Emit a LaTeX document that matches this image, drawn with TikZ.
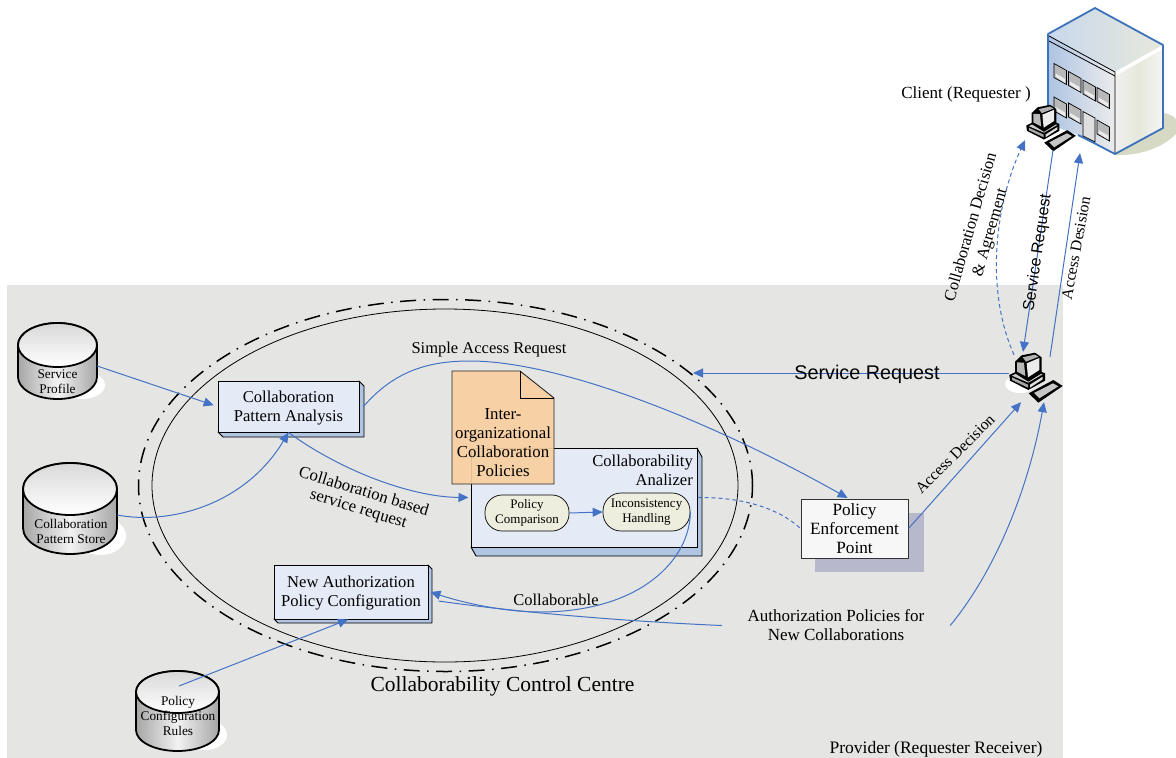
\documentclass[tikz,border=0pt]{standalone}
\usepackage{fontspec}
\setmainfont{Liberation Serif}
\newfontfamily\arialf{Liberation Sans}
\usetikzlibrary{arrows.meta}
\definecolor{bggray}{HTML}{E5E5E3}
\definecolor{linkblue}{HTML}{4472C4}
\definecolor{boxfill}{HTML}{E4EBF6}
\definecolor{boxside}{HTML}{AFC5E2}
\definecolor{notefill}{HTML}{F9CFA0}
\definecolor{pillfill}{HTML}{EEEEDF}
\definecolor{pepshadow}{HTML}{B8B8CC}
\definecolor{bldblue}{HTML}{3C72BC}
\definecolor{bldshadow}{HTML}{D6D9C4}
\tikzset{
  link/.style={draw=linkblue,line width=1pt},
  arrowed/.style={link,-{Triangle[length=10pt,width=9pt,fill=linkblue]}},
  dashlink/.style={link,dash pattern=on 4pt off 3pt},
  boxnode/.style={draw=black,line width=1pt,fill=boxfill,inner sep=0pt,align=center},
  pill/.style={draw=black,line width=0.7pt,fill=pillfill,rounded corners=17pt,inner sep=0pt,align=center,font=\fontsize{13}{15}\selectfont},
  port/.style={inner sep=0pt,draw=none,fill=none},
  label/.style={inner sep=0pt,align=center},
  t15/.style={font=\fontsize{16.6}{19}\selectfont},
  tcyl/.style={label,font=\fontsize{13.3}{15}\selectfont},
}
% cylinder: x1 x2 ytopcentre ybottomcentre ry
\newcommand\cyl[5]{%
  \pgfmathsetmacro\rrx{(#2-#1)/2}%
  \pgfmathsetmacro\ccx{(#1+#2)/2}%
  \draw[line width=1.8pt,left color=gray!70,right color=gray!70,middle color=gray!10]
    (#1,#3) -- (#1,#4) arc[start angle=180,end angle=360,x radius=\rrx pt,y radius=#5pt]
    -- (#2,#3) arc[start angle=0,end angle=180,x radius=\rrx pt,y radius=#5pt] -- cycle;
  \draw[line width=1.8pt,top color=gray!30,bottom color=white]
    (\ccx,#3) ellipse[x radius=\rrx pt,y radius=#5pt];
}
% raised box sides: x1 y1 x2 y2 dx dy
\newcommand\raised[6]{%
  \draw[fill=boxside,line width=0.9pt,line join=round]
    (#1,#4) -- ({#1+#5},{#4+#6}) -- ({#3+#5},{#4+#6}) -- ({#3+#5},{#2+#6}) -- (#3,#2) -- (#3,#4) -- cycle;
}
% computer in local units of the zoomed reference
\newcommand\compu[3]{%
  \begin{scope}[shift={(#1,#2)},x=#3pt,y=-#3pt,line join=round]
    \fill[black] (28,105) -- (82,78) -- (135,100) -- (135,122) -- (85,150) -- (30,122) -- cycle;
    \fill[gray!40] (36,107) -- (82,85) -- (128,103) -- (85,128) -- cycle;
    \fill[gray!70] (36,112) -- (84,134) -- (84,143) -- (36,120) -- cycle;
    \fill[gray!25] (90,134) -- (128,110) -- (128,118) -- (90,143) -- cycle;
    \fill[black] (45,65) -- (65,46) -- (105,38) -- (125,52) -- (125,100) -- (85,125) -- (45,100) -- cycle;
    \fill[gray!55] (51,67) -- (72,68) -- (76,108) -- (51,95) -- cycle;
    \fill[gray!15] (80,70) -- (118,54) -- (118,90) -- (84,112) -- cycle;
    \fill[gray!60] (68,52) -- (104,44) -- (116,50) -- (78,65) -- cycle;
    \fill[black] (86,160) -- (160,120) -- (188,138) -- (115,188) -- cycle;
    \fill[gray!45] (102,159) -- (159,130) -- (175,139) -- (118,175) -- cycle;
  \end{scope}
}
\newcommand\bwin[2]{%
  \draw[fill=gray!55,line width=0.7pt] (#1,#2) -- ({#1+12.5},{#2+7}) -- ({#1+12.5},{#2+21}) -- (#1,{#2+14}) -- cycle;
  \fill[gray!15] ({#1+1.5},{#2+10}) -- ({#1+11},{#2+15.5}) -- ({#1+11},{#2+19.5}) -- ({#1+1.5},{#2+13}) -- cycle;
}
\begin{document}
\begin{tikzpicture}[x=1pt,y=-1pt]
\useasboundingbox (0,0) rectangle (1176,758);
\fill[white] (0,0) rectangle (1176,758);
\fill[bggray] (7,285) rectangle (1063,758);

% building
\fill[bldshadow] (1160,112) .. controls (1170,114) and (1176,117) .. (1176,120) -- (1176,134) .. controls (1160,150) and (1135,156) .. (1115,155) -- cycle;
\shade[left color=bldblue!42,right color=gray!15] (1048,34) -- (1115,72) -- (1115,154) -- (1078,135) -- (1048,124) -- cycle;
\shade[left color=gray!12,right color=gray!8,middle color=bldshadow!60] (1115,72) -- (1163,45) -- (1163,128) -- (1115,154) -- cycle;
\shade[left color=bldblue!28,right color=bldshadow!60] (1048,34) -- (1095,8) -- (1163,45) -- (1115,72) -- cycle;
\fill[white] (1115,72) -- (1163,45) -- (1163,49) -- (1115,76) -- cycle;
\draw[line width=0.8pt] (1049,36) -- (1115,72) -- (1115,154);
\draw[line width=0.8pt] (1049,41) -- (1115,76);
\foreach \i/\xa/\ya in {0/1054/63.5,1/1068.5/71.5,2/1083/80,3/1097/87.5,4/1054/97,5/1068.5/103,6/1097/120}{\bwin{\xa}{\ya}}
\draw[fill=gray!25,line width=0.7pt] (1083,111.5) -- (1095,118) -- (1095,142) -- (1083,136) -- cycle;
\draw[bldblue,line width=1.8pt,line join=round] (1048,124) -- (1048,34) -- (1095,8) -- (1163,45) -- (1163,128) -- (1115,154) -- (1092,142) -- (1078,135);

% control-centre ellipses
\draw[line width=0.8pt] (445,485.5) ellipse[x radius=293pt,y radius=176.5pt];
\draw[line width=1.5pt,dash pattern=on 16pt off 7.5pt on 1.5pt off 7.5pt] (445.5,485.5) ellipse[x radius=307pt,y radius=186pt];

% cylinders
\fill[white] (82,385) ellipse[x radius=23pt,y radius=14pt];
\fill[white] (100,536) ellipse[x radius=26pt,y radius=19pt];
\fill[white] (205,735) ellipse[x radius=22pt,y radius=15pt];
\cyl{18}{97}{345}{377}{22}
\cyl{23}{117}{489}{528}{26}
\cyl{136}{219}{692}{730}{21}
\node[port,minimum width=79pt,minimum height=76pt] (sp) at (57.5,361) {};
\node[port,minimum width=94pt,minimum height=91pt] (cps) at (70,508.5) {};
\node[port,minimum width=83pt,minimum height=80pt] (pcr) at (177.5,711) {};
\node[tcyl] (sptxt) at (57.5,381.5) {Service\\Profile};
\node[tcyl] (cpstxt) at (71,531) {Collaboration\\Pattern Store};
\node[tcyl] (pcrtxt) at (178,716) {Policy\\Configuration\\Rules};

% boxes
\raised{218}{381}{359}{432}{5}{5}
\node[boxnode,minimum width=141pt,minimum height=51pt] (cpa) at (288.5,406.5) {};
\node[label,t15] (cpatxt) at (288.5,408) {Collaboration\\Pattern Analysis};
\raised{471}{448}{697}{547}{5}{9}
\node[boxnode,minimum width=226pt,minimum height=99pt] (anl) at (584,497.5) {};
\node[label,t15,align=right,anchor=north east] (anltxt) at (693,454.5) {Collaborability\\Analizer};
\raised{274}{565}{428}{619}{4}{4}
\node[boxnode,minimum width=154pt,minimum height=54pt] (napc) at (351,592) {};
\node[label,t15] (napctxt) at (351,593) {New Authorization\\Policy Configuration};

% note
\node[port,minimum width=102pt,minimum height=113pt] (note) at (503,427.5) {};
\fill[notefill,fill opacity=0.92] (452,371) -- (520,371) -- (554,398) -- (554,484) -- (452,484) -- cycle;
\draw[line width=0.9pt,draw=black!85] (452,371) -- (520,371) -- (554,398) -- (554,484) -- (452,484) -- cycle;
\draw[line width=0.9pt] (520,371) -- (520,398) -- (554,398);
\node[label,font=\fontsize{16.8}{19}\selectfont] (notetxt) at (503,442.5) {Inter-\\organizational\\Collaboration\\Policies};

% pills
\node[pill,minimum width=84pt,minimum height=36pt] (pc1) at (527,513) {Policy\\Comparison};
\node[pill,minimum width=87pt,minimum height=38pt,rounded corners=18pt] (pc2) at (646.5,512) {Inconsistency\\Handling};

% PEP
\fill[pepshadow] (815,513) rectangle (924,572);
\node[draw=black!80,line width=1pt,fill=white!97!black,inner sep=0pt,align=center,font=\fontsize{17.2}{19}\selectfont,minimum width=107pt,minimum height=59pt] (pep) at (854.5,528.5) {Policy\\Enforcement\\Point};

% computers
\fill[white] (1020,384) ellipse[x radius=15pt,y radius=9pt];
\compu{1000}{340}{0.3333}
\compu{1017.6}{93}{0.31}
\node[port,minimum width=52pt,minimum height=50pt] (pc) at (1035,377) {};
\node[port,minimum width=48pt,minimum height=46pt] (client) at (1050,127) {};

% free text that also serves as a connector end
\node[label,font=\fontsize{17}{19}\selectfont,minimum width=228pt] (auth) at (836,625.5) {Authorization Policies for\\New Collaborations};
\coordinate (sreqend) at (693,373);

% connectors
\draw[arrowed,shorten >=4pt] ([yshift=-5pt]sp.east) -- (cpa.west);
\draw[arrowed] ([yshift=-6.5pt]cps.east) .. controls (170,525) and (245,505) .. (cpa.south);
\draw[arrowed,shorten >=2pt] (cpa.south) .. controls (340,470) and (410,497) .. (anl.west);
\draw[arrowed,shorten >=1pt] ([xshift=4pt]cpa.east) .. controls (395,370) and (430,361) .. (470,361) .. controls (555,361) and (700,415) .. ([xshift=-6pt]pep.north);
\draw[arrowed] (pc1.east) -- (pc2.west);
\draw[dashlink] (anl.east) .. controls (735,497) and (775,505) .. (pep.west);
\draw[arrowed] (pc2.east) .. controls (690,560) and (640,612) .. (540,612) .. controls (510,612) and (470,605) .. ([xshift=2pt]napc.east);
\draw[link] (auth.west) .. controls (640,622) and (530,614) .. ([xshift=10pt,yshift=-9pt]napc.east);
\draw[arrowed] (auth.east) .. controls (1000,565) and (1030,480) .. ([xshift=9pt]pc.south);
\draw[arrowed] (pep.east) -- ([xshift=-14pt]pc.south);
\draw[arrowed] ([yshift=4pt]pc.west) -- (sreqend);
\draw[arrowed] ([xshift=1.5pt,yshift=25pt]pcr.center) -- ([xshift=-3pt]napc.south);
\draw[arrowed] ([xshift=3pt]client.south) -- ([xshift=-12pt]pc.north);
\draw[arrowed] ([xshift=15pt,yshift=-5pt]pc.north) -- ([xshift=30pt,yshift=-3pt]client.south);
\draw[dashlink,-{Triangle[length=10pt,width=9pt,fill=linkblue]}] ([xshift=-21pt,yshift=-3pt]pc.north) .. controls (985,290) and (995,205) .. ([xshift=-25pt,yshift=10pt]client.south);

% labels
\node[label,font=\fontsize{17}{19}\selectfont] (clt) at (966,94) {Client (Requester )};
\node[label,font=\fontsize{17.5}{19}\selectfont] (prv) at (936,749) {Provider (Requester Receiver)};
\node[label,font=\fontsize{21.5}{22}\selectfont] (ccc) at (502.5,686) {Collaborability Control Centre};
\node[label,font=\fontsize{16.5}{19}\selectfont] (sar) at (489,350) {Simple Access Request};
\node[label,font=\fontsize{16.5}{19}\selectfont] (clb) at (556,600) {Collaborable};
\node[label,font=\fontsize{16.8}{18}\selectfont,rotate=-17] (cbs) at (361,501) {Collaboration based\\service request};
\node[label,font=\arialf\fontsize{19.8}{22}\selectfont] (srq) at (867,374.5) {Service Request};
\node[label,font=\fontsize{15.8}{18}\selectfont,rotate=45] (acd) at (955,454) {Access Decision};
\node[label,font=\fontsize{16.5}{20}\selectfont,rotate=74] (cda) at (981,230) {Collaboration Decision\\\& Agreement};
\node[label,font=\arialf\fontsize{16}{19}\selectfont,rotate=81.5] (srv) at (1038,253) {Service Request};
\node[label,font=\fontsize{15.8}{18}\selectfont,rotate=79.5] (ads) at (1076,248) {Access Desision};
\end{tikzpicture}
\end{document}
